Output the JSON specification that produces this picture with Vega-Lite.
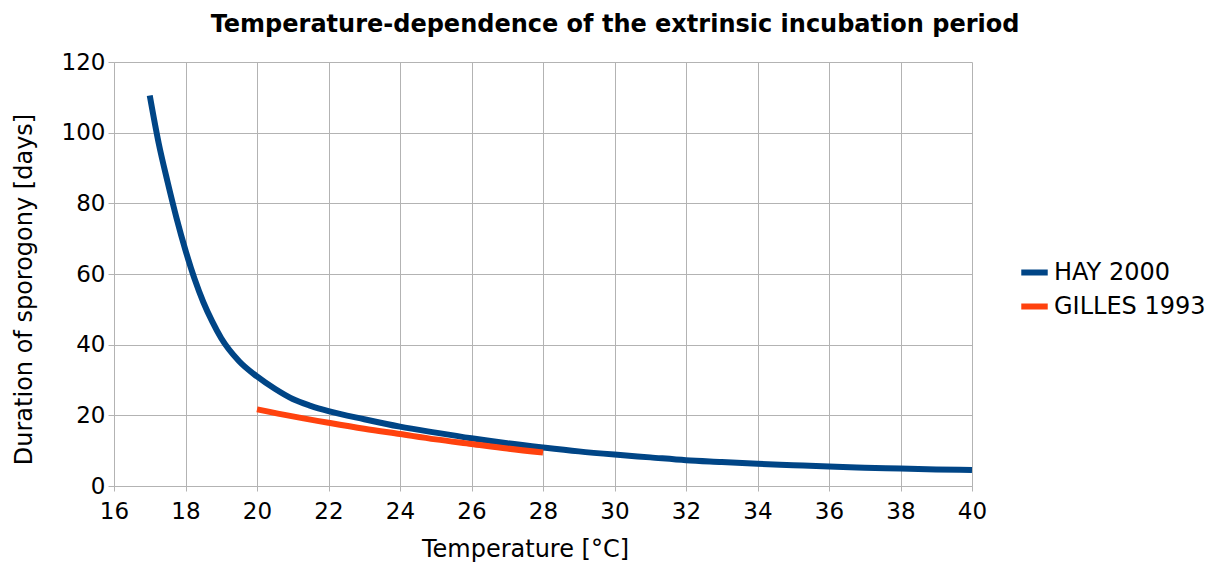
{
  "$schema": "https://vega.github.io/schema/vega-lite/v6.json",
  "autosize": "none",
  "width": 858,
  "height": 424,
  "padding": {"left": 114, "top": 62, "right": 247, "bottom": 79},
  "background": "white",
  "title": {
    "text": "Temperature-dependence of the extrinsic incubation period",
    "font": "DejaVu Sans",
    "fontSize": 24,
    "fontWeight": "bold",
    "color": "black",
    "anchor": "middle",
    "dx": 72,
    "offset": 14
  },
  "config": {
    "view": {"stroke": null},
    "font": "DejaVu Sans"
  },
  "data": {
    "values": [
      {"T": 17, "days": 110.5, "series": "HAY 2000"},
      {"T": 17.25, "days": 97, "series": "HAY 2000"},
      {"T": 17.5, "days": 86, "series": "HAY 2000"},
      {"T": 17.75, "days": 75.8, "series": "HAY 2000"},
      {"T": 18, "days": 66.7, "series": "HAY 2000"},
      {"T": 18.25, "days": 58.7, "series": "HAY 2000"},
      {"T": 18.5, "days": 52, "series": "HAY 2000"},
      {"T": 18.75, "days": 46.5, "series": "HAY 2000"},
      {"T": 19, "days": 41.8, "series": "HAY 2000"},
      {"T": 19.5, "days": 35.3, "series": "HAY 2000"},
      {"T": 20, "days": 31, "series": "HAY 2000"},
      {"T": 20.5, "days": 27.5, "series": "HAY 2000"},
      {"T": 21, "days": 24.6, "series": "HAY 2000"},
      {"T": 21.5, "days": 22.7, "series": "HAY 2000"},
      {"T": 22, "days": 21.2, "series": "HAY 2000"},
      {"T": 23, "days": 18.9, "series": "HAY 2000"},
      {"T": 24, "days": 16.8, "series": "HAY 2000"},
      {"T": 25, "days": 15.1, "series": "HAY 2000"},
      {"T": 26, "days": 13.5, "series": "HAY 2000"},
      {"T": 27, "days": 12.1, "series": "HAY 2000"},
      {"T": 28, "days": 10.9, "series": "HAY 2000"},
      {"T": 29, "days": 9.8, "series": "HAY 2000"},
      {"T": 30, "days": 8.9, "series": "HAY 2000"},
      {"T": 31, "days": 8.1, "series": "HAY 2000"},
      {"T": 32, "days": 7.3, "series": "HAY 2000"},
      {"T": 33, "days": 6.8, "series": "HAY 2000"},
      {"T": 34, "days": 6.3, "series": "HAY 2000"},
      {"T": 35, "days": 5.9, "series": "HAY 2000"},
      {"T": 36, "days": 5.5, "series": "HAY 2000"},
      {"T": 37, "days": 5.2, "series": "HAY 2000"},
      {"T": 38, "days": 4.95, "series": "HAY 2000"},
      {"T": 39, "days": 4.7, "series": "HAY 2000"},
      {"T": 40, "days": 4.5, "series": "HAY 2000"},
      {"T": 20, "days": 21.7, "series": "GILLES 1993"},
      {"T": 21, "days": 19.7, "series": "GILLES 1993"},
      {"T": 22, "days": 17.9, "series": "GILLES 1993"},
      {"T": 23, "days": 16.2, "series": "GILLES 1993"},
      {"T": 24, "days": 14.7, "series": "GILLES 1993"},
      {"T": 25, "days": 13.2, "series": "GILLES 1993"},
      {"T": 26, "days": 11.9, "series": "GILLES 1993"},
      {"T": 27, "days": 10.6, "series": "GILLES 1993"},
      {"T": 28, "days": 9.5, "series": "GILLES 1993"}
    ]
  },
  "mark": {"type": "line", "strokeWidth": 6, "interpolate": "monotone", "strokeCap": "butt"},
  "encoding": {
    "x": {
      "field": "T",
      "type": "quantitative",
      "scale": {"domain": [16, 40], "nice": false, "zero": false},
      "axis": {
        "values": [16, 18, 20, 22, 24, 26, 28, 30, 32, 34, 36, 38, 40],
        "title": "Temperature [°C]",
        "titleFont": "DejaVu Sans",
        "titleFontSize": 24,
        "titleFontWeight": "normal",
        "titleColor": "black",
        "titlePadding": 14,
        "titleX": 411,
        "labelFont": "DejaVu Sans",
        "labelFontSize": 23,
        "labelColor": "black",
        "labelPadding": 9,
        "labelFlush": false,
        "tickSize": 5,
        "tickColor": "#b3b3b3",
        "domainColor": "#b3b3b3",
        "gridColor": "#b3b3b3",
        "gridWidth": 1,
        "grid": true
      }
    },
    "y": {
      "field": "days",
      "type": "quantitative",
      "scale": {"domain": [0, 120], "nice": false},
      "axis": {
        "values": [0, 20, 40, 60, 80, 100, 120],
        "title": "Duration of sporogony [days]",
        "titleFont": "DejaVu Sans",
        "titleFontSize": 24,
        "titleFontWeight": "normal",
        "titleColor": "black",
        "titlePadding": 25,
        "titleY": 227,
        "labelFont": "DejaVu Sans",
        "labelFontSize": 23,
        "labelColor": "black",
        "labelPadding": 3,
        "labelFlush": false,
        "tickSize": 6,
        "tickColor": "#b3b3b3",
        "domainColor": "#b3b3b3",
        "gridColor": "#b3b3b3",
        "gridWidth": 1,
        "grid": true
      }
    },
    "color": {
      "field": "series",
      "type": "nominal",
      "scale": {"domain": ["HAY 2000", "GILLES 1993"], "range": ["#004586", "#ff420e"]},
      "legend": {
        "title": null,
        "orient": "none",
        "legendX": 904,
        "legendY": 194,
        "symbolType": "stroke",
        "symbolStrokeWidth": 6,
        "symbolSize": 700,
        "labelFont": "DejaVu Sans",
        "labelFontSize": 24,
        "labelColor": "black",
        "labelOffset": 3,
        "rowPadding": 5
      }
    }
  }
}
